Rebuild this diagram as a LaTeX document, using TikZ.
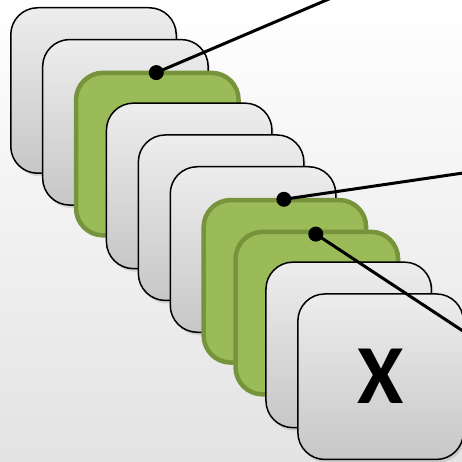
\documentclass[tikz,border=0pt]{standalone}
\usepackage{fontspec}
\setmainfont{Carlito}
\usetikzlibrary{shadows,calc}
\definecolor{cardgreen}{HTML}{9BBB59}
\definecolor{cardgreenborder}{HTML}{77933C}
\tikzset{
  card/.style={rectangle, minimum width=165.5pt, minimum height=165.5pt, rounded corners=27pt, inner sep=0pt},
  graycard/.style={card, draw=black, line width=1.5pt, top color=black!7, bottom color=black!22,
    drop shadow={shadow xshift=2pt, shadow yshift=-3pt, opacity=0.25}},
  greencard/.style={card, draw=cardgreenborder, line width=4.5pt, fill=cardgreen,
    minimum width=162.5pt, minimum height=162.5pt},
  pointer/.style={line width=3pt, black},
  dot/.style={circle, fill=black, inner sep=0pt, minimum size=15pt},
  bigx/.style={font=\bfseries\fontsize{84}{84}\selectfont},
}
\begin{document}
\begin{tikzpicture}[x=1pt,y=1pt]
  \useasboundingbox (0,0) rectangle (462,-462);
  \clip (0,0) rectangle (462,-462);
  \shade[top color=white, bottom color=black!11] (0,0) rectangle (462,-462);
  \foreach \i/\sty in {1/graycard,2/graycard,3/greencard,4/graycard,5/graycard,6/graycard,7/greencard,8/greencard,9/graycard}{
    \node[\sty] (c\i) at ({93.5+31.9*(\i-1)},{-90.5-31.8*(\i-1)}) {};
  }
  \node[graycard, bigx] (c10) at ({93.5+31.9*9},{-90.5-31.8*9}) {X};
  \node[dot] (d1) at ($(c3.north)+(-1,-2)$) {};
  \node[dot] (d2) at ($(c7.north)+(-1,-1.5)$) {};
  \node[dot] (d3) at ($(c8.north)+(-1,-4.5)$) {};
  \coordinate (e1) at (336,4);
  \coordinate (e2) at (470,-172);
  \coordinate (e3) at (472,-337);
  \draw[pointer] (d1.center) -- (e1);
  \draw[pointer] (d2.center) -- (e2);
  \draw[pointer] (d3.center) -- (e3);
\end{tikzpicture}
\end{document}
